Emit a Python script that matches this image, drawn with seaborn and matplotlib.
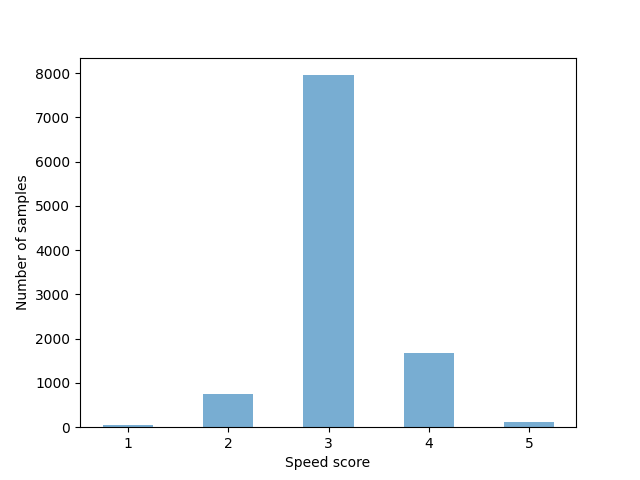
import matplotlib
matplotlib.use("Agg")
import matplotlib.pyplot as plt
import seaborn as sns

# speed score histogram
scores = ["1", "2", "3", "4", "5"]
n_samples = [45, 746, 7955, 1672, 113]

fig, ax = plt.subplots(figsize=(6.4, 4.8), dpi=100)
sns.barplot(x=scores, y=n_samples, color="#1f77b4", alpha=0.6,
            saturation=1, width=0.5, ax=ax)
ax.set_xlim(-0.48, 4.47)
ax.set_xlabel("Speed score")
ax.set_ylabel("Number of samples")
plt.setp(ax.get_xticklabels(), rotation=0)

fig.savefig("out.png")
